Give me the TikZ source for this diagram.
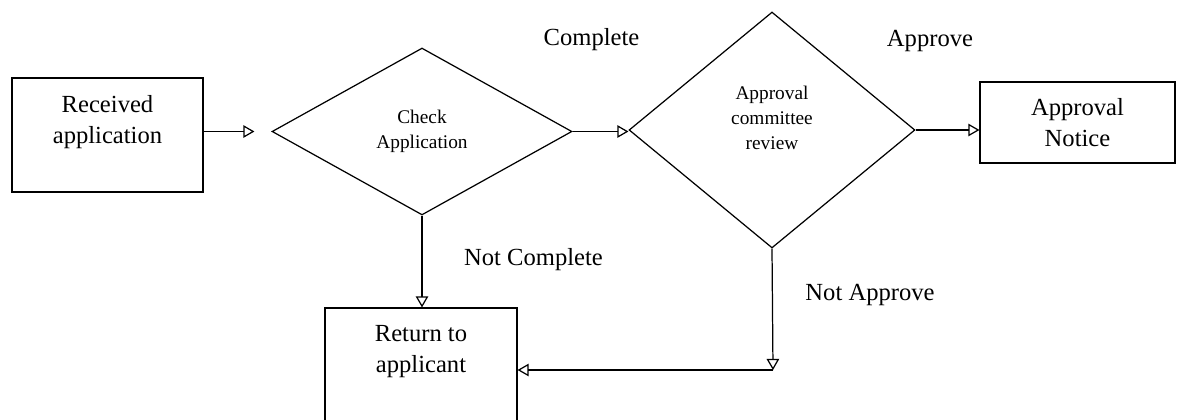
\documentclass[tikz,border=0pt]{standalone}
\usepackage{fontspec}
\setmainfont{Liberation Serif}
\usetikzlibrary{arrows,shapes.geometric}

\begin{document}
\begin{tikzpicture}[
x=0.02cm, y=-0.02cm,
>=open triangle 60,
line width=0.7pt,
boxnode/.style={rectangle, draw, inner sep=0pt, align=center, font=\fontsize{14}{17.5}\selectfont},
decisionnode/.style={diamond, draw, inner sep=0pt, align=center, font=\fontsize{11}{14}\selectfont},
tagnode/.style={font=\fontsize{14}{17}\selectfont},
]
\useasboundingbox (0,0) rectangle (1182,419);
%Nodes
\node[boxnode, minimum width=3.82cm, minimum height=2.28cm]      (recv)    at (107.5,135) {Received\\application\\~};
\node[decisionnode, minimum width=6cm, minimum height=3.34cm]     (check)   at (422,131.5) {Check\\Application};
\node[decisionnode, minimum width=5.72cm, minimum height=4.72cm]   (review)  at (772,130) {Approval\\committee\\review\\~};
\node[boxnode, minimum width=3.9cm, minimum height=1.62cm]       (notice)  at (1077.5,122.5) {Approval\\Notice};
\node[boxnode, minimum width=3.84cm, minimum height=2.26cm]      (ret)     at (421,364.5) {Return to\\applicant\\~};

\node[tagnode] (comp)    at (591.5,40)  {Complete};
\node[tagnode] (appr)    at (930,41)    {Approve};
\node[tagnode] (ncomp)   at (533.5,260) {Not Complete};
\node[tagnode] (nappr)   at (870,295)   {Not Approve};

\coordinate (turn) at (773,370);

\draw[->, shorten >=0.34cm] (recv.east |- check.west) -- (check.west);
\draw[->] (check.east) -- (check.east -| review.west);
\draw[->] (review.east) -- (review.east -| notice.west);
\draw[->] (check.south) -- (check.south |- ret.north);
\draw[->] (review.south) -- (turn);
\draw[->] (turn) -- (turn -| ret.east);

\end{tikzpicture}
\end{document}
